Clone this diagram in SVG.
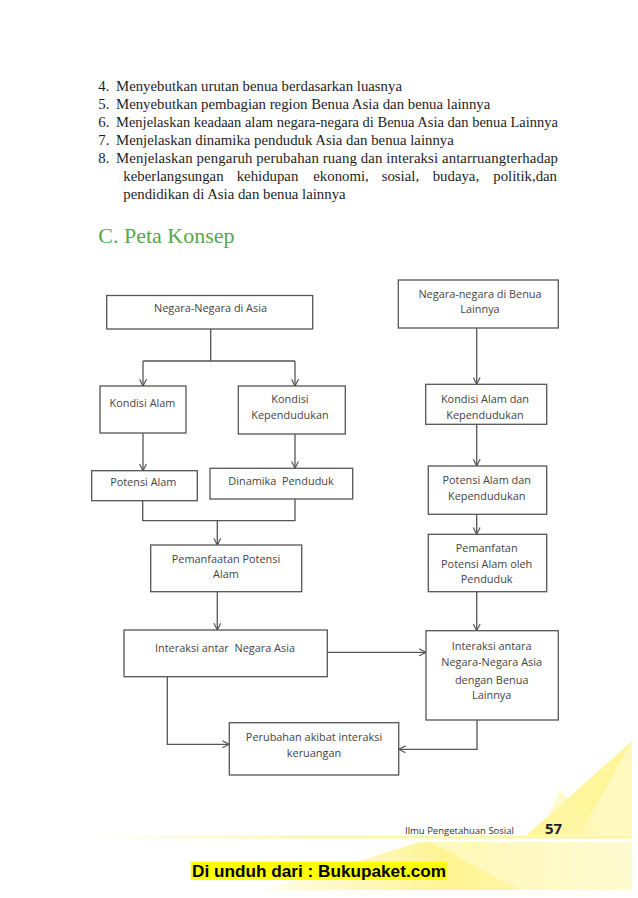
<svg xmlns="http://www.w3.org/2000/svg" width="638" height="898" viewBox="0 0 638 898">
<style>
.body{font-family:"Liberation Serif","Times New Roman",serif;font-size:14.8px;fill:#1e1e1e}
.title{font-family:"Liberation Serif","Times New Roman",serif;font-size:22px;fill:#55a74d}
.box{fill:#fff;stroke:#555;stroke-width:1.3}
.lbl{font-family:"Open Sans","Noto Sans",sans-serif;font-size:10.9px;fill:#444;text-anchor:middle;white-space:pre}
.con{fill:none;stroke:#555;stroke-width:1.3}
.foot{font-family:"Open Sans","Noto Sans",sans-serif;font-size:9.5px;fill:#333}
</style>
<defs>
<marker id="arr" viewBox="0 0 10 10" refX="9" refY="5" markerWidth="8.5" markerHeight="8.5" orient="auto" markerUnits="userSpaceOnUse">
<path d="M1,1 L9,5 L1,9" fill="none" stroke="#555" stroke-width="1.4"/>
</marker>
<linearGradient id="yg" x1="0" y1="0" x2="1" y2="0">
<stop offset="0" stop-color="#fff176" stop-opacity="0.15"/>
<stop offset="0.5" stop-color="#fff176" stop-opacity="0.8"/>
<stop offset="1" stop-color="#fff9c4" stop-opacity="0.9"/>
</linearGradient>
<linearGradient id="yl" x1="0" y1="0" x2="1" y2="0">
<stop offset="0" stop-color="#fff59d" stop-opacity="0"/>
<stop offset="0.4" stop-color="#fff59d" stop-opacity="0.8"/>
<stop offset="1" stop-color="#fff59d" stop-opacity="1"/>
</linearGradient>
</defs>
<rect width="638" height="898" fill="#fff"/>

<g id="decor">
<polygon points="632,741 527,835 632,835" fill="#fff27a" opacity="0.75"/>
<polygon points="632,741 580,835 632,835" fill="#fffbd0" opacity="0.7"/>
<polygon points="560,790 540,835 600,835" fill="#fff7a8" opacity="0.6"/>
<polygon points="263,890 420,842 632,842 632,890" fill="url(#yg)"/>
<polygon points="430,842 520,890 632,890 632,842" fill="#fffbd6" opacity="0.6"/>
<rect x="90" y="835.5" width="542" height="3" fill="url(#yl)"/>
</g>

<g id="text">
<text class="body" x="98.3" y="91">4.</text>
<text class="body" x="116" y="91">Menyebutkan urutan benua berdasarkan luasnya</text>
<text class="body" x="98.3" y="109">5.</text>
<text class="body" x="116" y="109">Menyebutkan pembagian region Benua Asia dan benua lainnya</text>
<text class="body" x="98.3" y="127">6.</text>
<text class="body" x="116" y="127" textLength="442" lengthAdjust="spacingAndGlyphs">Menjelaskan keadaan alam negara-negara di Benua Asia dan benua Lainnya</text>
<text class="body" x="98.3" y="145">7.</text>
<text class="body" x="116" y="145">Menjelaskan dinamika penduduk Asia dan benua lainnya</text>
<text class="body" x="98.3" y="163">8.</text>
<text class="body" x="116" y="163" textLength="442" lengthAdjust="spacing">Menjelaskan pengaruh perubahan ruang dan interaksi antarruangterhadap</text>
<text class="body" y="181"><tspan x="123.3">keberlangsungan</tspan><tspan x="236.7">kehidupan</tspan><tspan x="313.3">ekonomi,</tspan><tspan x="381.7">sosial,</tspan><tspan x="432.7">budaya,</tspan><tspan x="493.3">politik,dan</tspan></text>
<text class="body" x="123.3" y="199">pendidikan di Asia dan benua lainnya</text>
<text class="title" x="98.3" y="243">C. Peta Konsep</text>
</g>

<g id="connectors">
<path class="con" d="M210.7,329 V361 M143,361 H295"/>
<path class="con" d="M143,361 V386" marker-end="url(#arr)"/>
<path class="con" d="M295,361 V386" marker-end="url(#arr)"/>
<path class="con" d="M143,433 V470.7" marker-end="url(#arr)"/>
<path class="con" d="M295,434 V468.3" marker-end="url(#arr)"/>
<path class="con" d="M142.7,500.7 V520.7 H295 V499"/>
<path class="con" d="M217.3,520.7 V545" marker-end="url(#arr)"/>
<path class="con" d="M217.3,591.7 V630" marker-end="url(#arr)"/>
<path class="con" d="M327.3,652.3 H426" marker-end="url(#arr)"/>
<path class="con" d="M167.3,676.7 V744.3 H229.3" marker-end="url(#arr)"/>
<path class="con" d="M476.7,328 V384.3" marker-end="url(#arr)"/>
<path class="con" d="M476.7,424.3 V466" marker-end="url(#arr)"/>
<path class="con" d="M476.7,514.3 V534.3" marker-end="url(#arr)"/>
<path class="con" d="M476.7,591.7 V630.7" marker-end="url(#arr)"/>
<path class="con" d="M477,720 V749.3 H398.7" marker-end="url(#arr)"/>
</g>

<g id="n-asia"><rect class="box" x="106.7" y="295.5" width="206" height="33.5"/><text class="lbl" x="210.5" y="311.5">Negara-Negara di Asia</text></g>
<g id="n-kondisi-alam"><rect class="box" x="100" y="386" width="86" height="47"/><text class="lbl" x="142.5" y="407">Kondisi Alam</text></g>
<g id="n-kondisi-kep"><rect class="box" x="238.3" y="386" width="107" height="48"/><text class="lbl" x="290" y="403">Kondisi</text><text class="lbl" x="290" y="419">Kependudukan</text></g>
<g id="n-benua"><rect class="box" x="398.3" y="280" width="160" height="48"/><text class="lbl" x="480" y="298">Negara-negara di Benua</text><text class="lbl" x="480" y="313">Lainnya</text></g>
<g id="n-kondisi-alam-kep"><rect class="box" x="425.7" y="384.3" width="121" height="40"/><text class="lbl" x="485" y="403">Kondisi Alam dan</text><text class="lbl" x="485" y="419">Kependudukan</text></g>
<g id="n-potensi-alam"><rect class="box" x="91.7" y="470.7" width="105.6" height="30"/><text class="lbl" x="143.3" y="486">Potensi Alam</text></g>
<g id="n-dinamika"><rect class="box" x="210" y="468.3" width="142.7" height="30.7"/><text class="lbl" x="281" y="485">Dinamika  Penduduk</text></g>
<g id="n-potensi-kep"><rect class="box" x="428.3" y="466" width="118.4" height="48.3"/><text class="lbl" x="486.7" y="484">Potensi Alam dan</text><text class="lbl" x="486.7" y="499.5">Kependudukan</text></g>
<g id="n-pemanfaatan"><rect class="box" x="150.7" y="545" width="151" height="46.7"/><text class="lbl" x="226" y="562.5">Pemanfaatan Potensi</text><text class="lbl" x="226" y="578">Alam</text></g>
<g id="n-pemanfatan-penduduk"><rect class="box" x="428.3" y="534.3" width="118.4" height="57.4"/><text class="lbl" x="486.7" y="552">Pemanfatan</text><text class="lbl" x="486.7" y="568">Potensi Alam oleh</text><text class="lbl" x="486.7" y="583">Penduduk</text></g>
<g id="n-interaksi-asia"><rect class="box" x="124" y="630" width="203.3" height="46.7"/><text class="lbl" x="225" y="652">Interaksi antar  Negara Asia</text></g>
<g id="n-interaksi-benua"><rect class="box" x="426" y="630.7" width="132.3" height="89.3"/><text class="lbl" x="491.7" y="649.5">Interaksi antara</text><text class="lbl" x="491.7" y="666">Negara-Negara Asia</text><text class="lbl" x="491.7" y="684">dengan Benua</text><text class="lbl" x="491.7" y="699">Lainnya</text></g>
<g id="n-perubahan"><rect class="box" x="229.3" y="722.7" width="169.4" height="52.3"/><text class="lbl" x="314" y="740.5">Perubahan akibat interaksi</text><text class="lbl" x="314" y="756.5">keruangan</text></g>

<g id="footer">
<text class="foot" x="405" y="833.5">Ilmu Pengetahuan Sosial</text>
<text x="545" y="833.5" font-family="'Open Sans','Noto Sans',sans-serif" font-size="15px" font-weight="bold" fill="#222">57</text>
<rect x="190.7" y="861.7" width="256" height="18.3" fill="#ffff00"/>
<text x="192" y="876.5" font-family="'Liberation Sans',Arial,sans-serif" font-size="17.2px" font-weight="bold" fill="#000">Di unduh dari : Bukupaket.com</text>
</g>
</svg>
